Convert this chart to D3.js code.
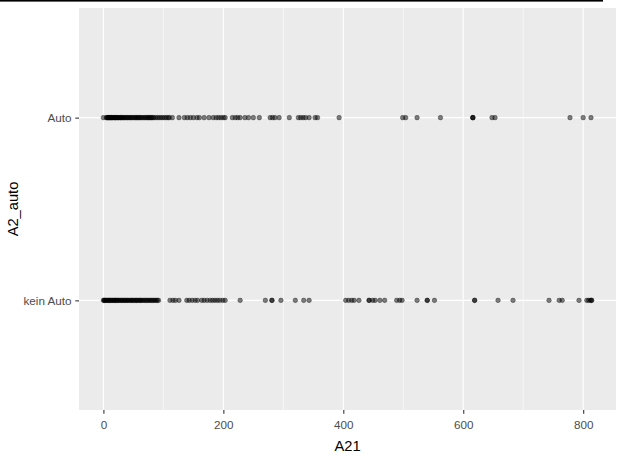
<!DOCTYPE html>
<html>
<head>
<meta charset="utf-8">
<script src="https://cdn.jsdelivr.net/npm/d3@7"></script>
<style>
  body { margin: 0; background: #fff; }
  text { font-family: "Liberation Sans", Arial, sans-serif; }
</style>
</head>
<body>
<svg id="chart" width="627" height="456"></svg>
<script>
// categories (bottom to top) and values
var categories = ["kein Auto", "Auto"];

var autoValues = [0, 5, 6, 7, 8, 9, 10, 11, 12, 13, 14, 15, 16, 18, 19, 20, 21, 22, 24, 25, 26, 28, 29, 30,
  32, 33, 35, 36, 38, 40, 41, 43, 45, 46, 48, 50, 52, 54, 55, 57, 59, 60, 62, 64, 66, 68, 70, 72, 74, 75,
  77, 79, 80, 82, 84, 87, 90, 93, 96, 99, 102, 105, 108, 110, 115, 126, 135, 140, 145, 150, 156, 160,
  168, 176, 183, 188, 192, 196, 200, 203, 215, 220, 224, 228, 236, 242, 250, 260, 278, 282, 286, 293,
  310, 325, 329, 333, 337, 343, 353, 357, 393, 499, 504, 523, 562, 616, 616, 616, 648, 653, 778, 800, 813];

var keinAutoValues = [0, 1, 2, 3, 5, 6, 8, 9, 10, 12, 13, 15, 16, 18, 19, 20, 22, 23, 25, 26, 28, 30, 31,
  33, 35, 36, 38, 40, 41, 43, 45, 47, 48, 50, 52, 54, 55, 57, 59, 61, 62, 64, 66, 68, 70, 72, 74, 76, 78,
  80, 82, 84, 86, 88, 90, 92, 111, 116, 120, 126, 139, 143, 148, 153, 157, 164, 168, 173, 178, 182, 186,
  190, 194, 199, 203, 228, 270, 281, 281, 296, 320, 334, 343, 404, 409, 414, 418, 426, 443, 443, 449,
  453, 461, 469, 489, 494, 498, 523, 540, 540, 552, 619, 619, 658, 683, 743, 760, 765, 793, 806, 809,
  812, 814, 814];

var xTicks = [0, 200, 400, 600, 800];
var xMinor = [100, 300, 500, 700];

var svg = d3.select("#chart");
var pLeft = 79, pRight = 616, pTop = 8, pBottom = 410;

// points as rows
var points = [];
autoValues.forEach(function(v){ points.push({cat: "Auto", v: v}); });
keinAutoValues.forEach(function(v){ points.push({cat: "kein Auto", v: v}); });

// ggplot style 5% expansion
var ext = d3.extent(points, function(d){ return d.v; });
var pad = (ext[1] - ext[0]) * 0.05;
var x = d3.scaleLinear().domain([ext[0] - pad, ext[1] + pad]).range([pLeft, pRight]);
var y = d3.scalePoint().domain(categories).range([pBottom, pTop]).padding(0.6);

// stray line at the very top of the screenshot
svg.append("rect").attr("x", 0).attr("y", 0).attr("width", 603).attr("height", 1.6).attr("fill", "#000");

// panel
svg.append("rect")
  .attr("x", pLeft).attr("y", pTop)
  .attr("width", pRight - pLeft).attr("height", pBottom - pTop)
  .attr("fill", "#ebebeb");

var grid = svg.append("g");
grid.selectAll(".minor").data(xMinor).enter().append("line")
  .attr("x1", function(d){ return x(d); }).attr("x2", function(d){ return x(d); })
  .attr("y1", pTop).attr("y2", pBottom)
  .attr("stroke", "#fff").attr("stroke-width", 0.6);
grid.selectAll(".major").data(xTicks).enter().append("line")
  .attr("x1", function(d){ return x(d); }).attr("x2", function(d){ return x(d); })
  .attr("y1", pTop).attr("y2", pBottom)
  .attr("stroke", "#fff").attr("stroke-width", 1.1);
grid.selectAll(".hmajor").data(categories).enter().append("line")
  .attr("x1", pLeft).attr("x2", pRight)
  .attr("y1", function(d){ return y(d); }).attr("y2", function(d){ return y(d); })
  .attr("stroke", "#fff").attr("stroke-width", 1.1);

// points
svg.append("g").selectAll("circle").data(points).enter().append("circle")
  .attr("cx", function(d){ return x(d.v); })
  .attr("cy", function(d){ return y(d.cat); })
  .attr("r", 2.3)
  .attr("fill", "#000").attr("fill-opacity", 0.5)
  .attr("stroke", "#000").attr("stroke-opacity", 0.5).attr("stroke-width", 0.6);

// axes
var xAxis = svg.append("g").attr("transform", "translate(0," + pBottom + ")")
  .call(d3.axisBottom(x).tickValues(xTicks).tickSize(3.7).tickPadding(6.5).tickFormat(d3.format("d")));
var yAxis = svg.append("g").attr("transform", "translate(" + pLeft + ",0)")
  .call(d3.axisLeft(y).tickSize(3.7).tickPadding(3.7));

[xAxis, yAxis].forEach(function(a){
  a.select(".domain").remove();
  a.selectAll(".tick line").attr("stroke", "#333").attr("stroke-width", 1.1);
  a.selectAll(".tick text").attr("fill", "#4d4d4d").style("font-size", "11.7px")
    .style("font-family", "'Liberation Sans', Arial, sans-serif");
});

// axis titles
svg.append("text")
  .attr("x", (pLeft + pRight) / 2).attr("y", 451)
  .attr("text-anchor", "middle")
  .style("font-size", "14.7px").attr("fill", "#000")
  .text("A21");

svg.append("text")
  .attr("transform", "translate(18," + (pTop + pBottom) / 2 + ") rotate(-90)")
  .attr("text-anchor", "middle")
  .style("font-size", "14.7px").attr("fill", "#000")
  .text("A2_auto");
</script>
</body>
</html>
